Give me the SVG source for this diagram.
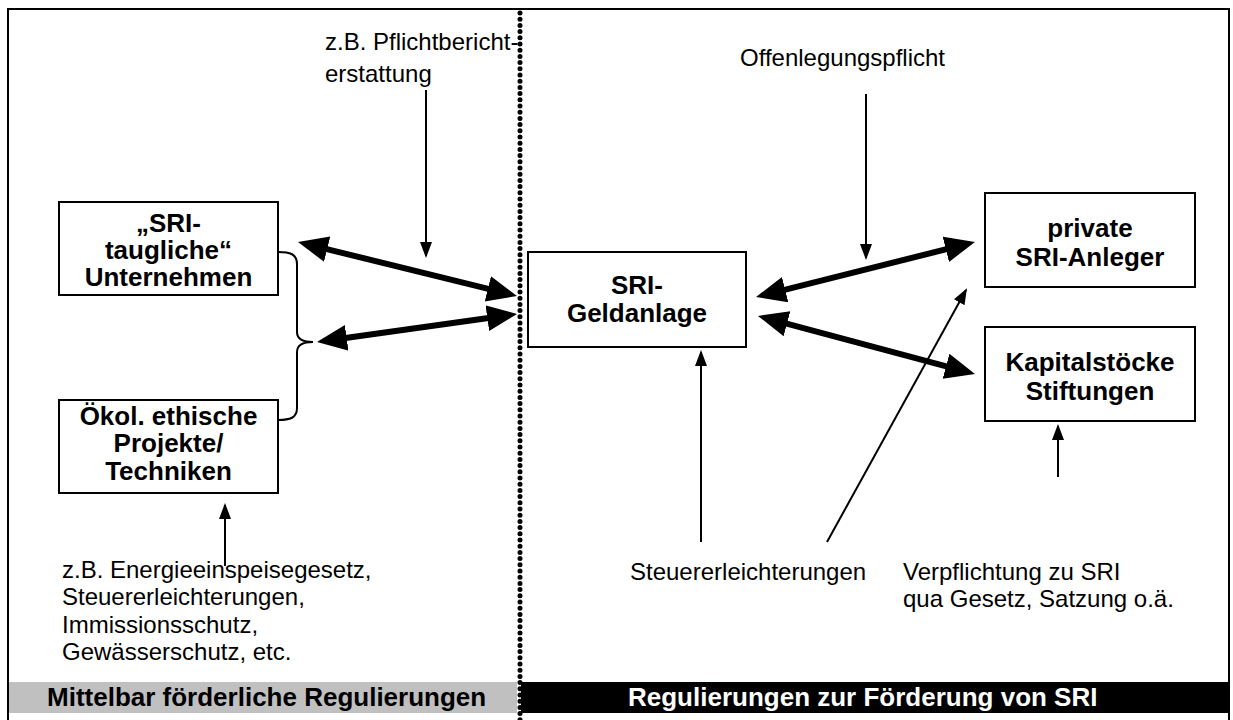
<svg xmlns="http://www.w3.org/2000/svg" width="1233" height="720" viewBox="0 0 1233 720">
<style>
.box{fill:#fff;stroke:#000;stroke-width:2}
.b{font-family:"Liberation Sans",Arial,sans-serif;font-weight:bold;font-size:26px;text-anchor:middle;fill:#000}
.r{font-family:"Liberation Sans",Arial,sans-serif;font-size:24px;fill:#000}
.thick{stroke:#000;stroke-width:6;fill:none;marker-start:url(#bigHead);marker-end:url(#bigHead)}
.thin{stroke:#000;stroke-width:2;fill:none;marker-end:url(#smallHead)}
</style>
<defs>
<marker id="bigHead" markerUnits="userSpaceOnUse" markerWidth="32" markerHeight="28" refX="12" refY="13" orient="auto-start-reverse" viewBox="0 0 32 28">
<path d="M0,0 L30,13 L0,26 z" fill="#000"/>
</marker>
<marker id="smallHead" markerUnits="userSpaceOnUse" markerWidth="18" markerHeight="14" refX="14" refY="6" orient="auto" viewBox="0 0 18 14">
<path d="M0,0 L16,6 L0,12 z" fill="#000"/>
</marker>
</defs>
<rect x="0" y="0" width="1233" height="720" fill="#fff"/>
<rect x="8" y="9" width="1221" height="714" fill="none" stroke="#000" stroke-width="2"/>

<g id="bars">
<rect x="9" y="682" width="508" height="31" fill="#c0c0c0"/>
<rect x="521" y="682" width="707" height="31" fill="#000"/>
<text class="b" x="47" y="706" style="text-anchor:start">Mittelbar förderliche Regulierungen</text>
<text class="b" x="628" y="706" style="text-anchor:start;fill:#fff">Regulierungen zur Förderung von SRI</text>
</g>

<g id="divider">
<line x1="520" y1="13" x2="520" y2="720" stroke="#000" stroke-width="5" stroke-linecap="round" stroke-dasharray="0 6.2"/>
</g>

<g id="labels">
<text class="r" x="325" y="50">z.B. Pflichtbericht-</text>
<text class="r" x="325" y="82">erstattung</text>
<text class="r" x="740" y="66">Offenlegungspflicht</text>
<text class="r" x="62" y="578">z.B. Energieeinspeisegesetz,</text>
<text class="r" x="62" y="605">Steuererleichterungen,</text>
<text class="r" x="62" y="633">Immissionsschutz,</text>
<text class="r" x="62" y="660">Gewässerschutz, etc.</text>
<text class="r" x="630" y="580">Steuererleichterungen</text>
<text class="r" x="903" y="580">Verpflichtung zu SRI</text>
<text class="r" x="903" y="607">qua Gesetz, Satzung o.ä.</text>
</g>

<g id="connectors">
<path d="M278,252 C290,252 297,254 297,264 L297,332 C297,339 303,342 313,342 C303,342 297,345 297,352 L297,408 C297,418 290,420 278,420" fill="none" stroke="#000" stroke-width="2"/>
<line class="thick" x1="315.5" y1="246.3" x2="499.5" y2="291.7"/>
<line class="thick" x1="334.8" y1="339.5" x2="499.2" y2="316.5"/>
<line class="thick" x1="773.5" y1="292.6" x2="957.5" y2="246.4"/>
<line class="thick" x1="775.4" y1="320.6" x2="957.6" y2="369.4"/>
<line class="thin" x1="426" y1="90" x2="426" y2="256"/>
<line class="thin" x1="866" y1="94" x2="866" y2="258"/>
<line class="thin" x1="701" y1="542" x2="701" y2="352"/>
<line class="thin" x1="827" y1="542" x2="966" y2="290"/>
<line class="thin" x1="1058" y1="477" x2="1058" y2="426"/>
<line class="thin" x1="225" y1="566" x2="225" y2="505"/>
</g>

<g id="node-sri-unternehmen">
<rect class="box" x="59" y="202" width="219" height="93"/>
<text class="b" x="168.5" y="232">„SRI-</text>
<text class="b" x="168.5" y="259">taugliche“</text>
<text class="b" x="168.5" y="286">Unternehmen</text>
</g>

<g id="node-projekte">
<rect class="box" x="59" y="400" width="219" height="93"/>
<text class="b" x="168.5" y="425">Ökol. ethische</text>
<text class="b" x="168.5" y="452">Projekte/</text>
<text class="b" x="168.5" y="480">Techniken</text>
</g>

<g id="node-geldanlage">
<rect class="box" x="528" y="252" width="218" height="95"/>
<text class="b" x="637" y="294">SRI-</text>
<text class="b" x="637" y="322">Geldanlage</text>
</g>

<g id="node-private">
<rect class="box" x="985" y="193" width="210" height="94"/>
<text class="b" x="1090" y="237">private</text>
<text class="b" x="1090" y="266">SRI-Anleger</text>
</g>

<g id="node-kapital">
<rect class="box" x="985" y="327" width="210" height="94"/>
<text class="b" x="1090" y="371">Kapitalstöcke</text>
<text class="b" x="1090" y="400">Stiftungen</text>
</g>
</svg>
